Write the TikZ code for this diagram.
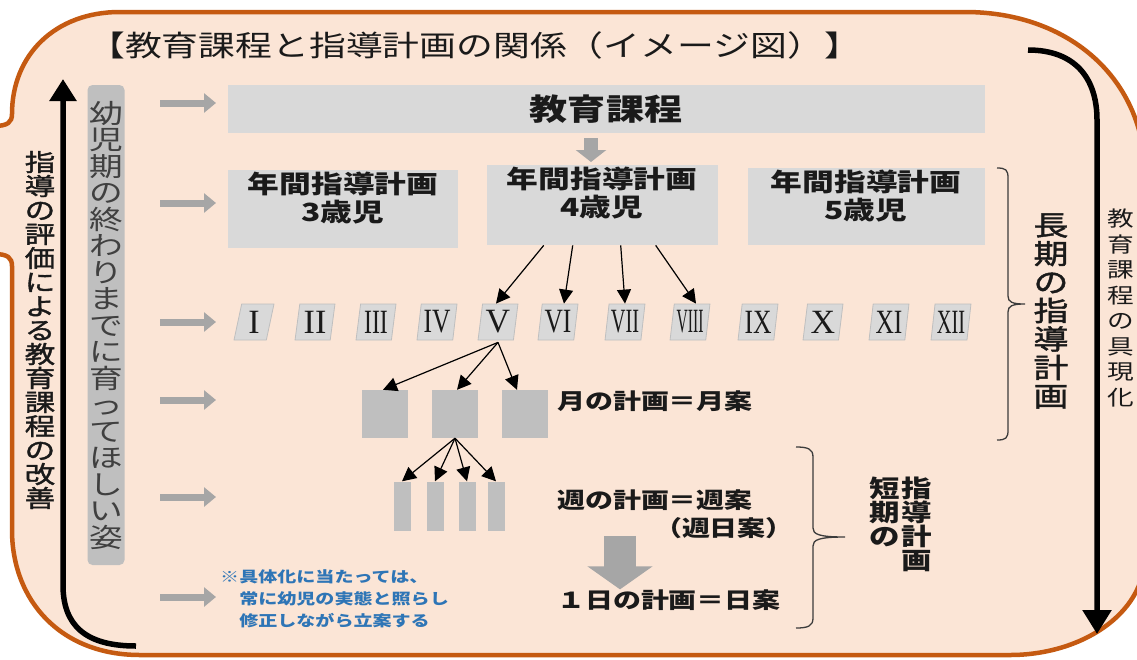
\documentclass[tikz,border=0pt]{standalone}
\usepackage{graphicx}
\usepackage{fontspec}
\setmainfont{Noto Sans CJK JP}[FakeStretch=1.27]
\newfontfamily\jp{Noto Sans CJK JP}[FakeStretch=1.27]
\newfontfamily\jpm{Noto Sans CJK JP}[FakeStretch=1.27,FakeBold=1.6]
\newfontfamily\rmn{Liberation Serif}
\usetikzlibrary{arrows.meta,shapes.geometric}
\definecolor{peach}{HTML}{FBE5D6}
\definecolor{orng}{HTML}{C55A11}
\definecolor{lgray}{HTML}{D9D9D9}
\definecolor{mgray}{HTML}{BFBFBF}
\definecolor{agray}{HTML}{A6A6A6}
\definecolor{blu}{HTML}{2E75B6}
\definecolor{txt}{HTML}{1A1A1A}
\newcommand\fsz[1]{\fontsize{#1}{#1}\selectfont}
\newcommand\rn[2]{\scalebox{#1}[1]{#2}}
\begin{document}
\begin{tikzpicture}[x=1pt,y=-1pt,
  graybox/.style={fill=lgray, draw=none, inner sep=0pt},
  mbox/.style={fill=mgray, draw=none, inner sep=0pt},
  label/.style={inner sep=0pt, text=txt, font=\jp\bfseries\fsz{22}},
  vtext/.style={inner sep=0pt, align=center, text=txt},
  smallarrow/.style={draw=agray, line width=7pt, -{Triangle[length=12pt,width=19pt]}},
  thinarrow/.style={draw=black, line width=1.2pt, -{Triangle[length=14pt,width=14pt]}},
  blockarrow/.style={draw=agray, -{Triangle[length=12pt,width=30pt]}},
  brace/.style={draw=txt!85, line width=1.3pt},
  bigarrow/.style={draw=black, line width=5.5pt},
  roman/.style={trapezium, trapezium left angle=81, trapezium right angle=99,
    trapezium stretches=true, minimum width=40pt, minimum height=36pt,
    fill=lgray, draw=mgray, line width=0.8pt, inner sep=0pt,
    text=txt, font=\rmn\fsz{34}}]
\useasboundingbox (0,0) rectangle (1137,659);
\fill[white] (0,0) rectangle (1137,659);
% outer frame
\filldraw[fill=peach, draw=orng, line width=4.5pt]
  (120,12) -- (965,12) .. controls (1070,12) and (1145,80) .. (1145,175)
  -- (1145,555) .. controls (1145,615) and (1080,655) .. (1010,655)
  -- (140,655) .. controls (60,655) and (12,600) .. (12,530)
  -- (12,266) .. controls (12,258) and (8,254) .. (-6,254)
  -- (-6,126) .. controls (8,126) and (12,122) .. (12,114)
  .. controls (12,55) and (55,12) .. (120,12) -- cycle;
% title
\node[anchor=west, inner sep=0pt, text=txt, font=\jp\fsz{29}] (title) at (88,45)
  {【教育課程と指導計画の関係（イメージ図）】};
% left big arrow
\coordinate (lb) at (136,646);
\coordinate (lt) at (63,79);
\draw[bigarrow, -{Triangle[length=22pt,width=26pt]}] (lb) .. controls (85,646) and (63,625) .. (63,585) -- (lt);
\node[vtext, font=\jpm\fsz{24}] (eval) at (40,330)
  {指\\導\\の\\評\\価\\に\\よ\\る\\教\\育\\課\\程\\の\\改\\善};
% right big arrow
\coordinate (rt) at (1028,50);
\coordinate (rb) at (1097,634);
\draw[bigarrow, -{Triangle[length=24pt,width=28pt]}] (rt) .. controls (1075,50) and (1097,78) .. (1097,120) -- (rb);
\node[vtext, font=\jp\fontsize{21}{25.5}\selectfont] (gugen) at (1121,308)
  {教\\育\\課\\程\\の\\具\\現\\化};
% gray vertical box
\node[fill=mgray, rounded corners=5pt, minimum width=37pt, minimum height=480pt, inner sep=0pt] (sugata) at (106,325) {};
\node[vtext, text=black!75, font=\jp\fsz{26.5}] (sugatat) at (sugata.center)
  {幼\\児\\期\\の\\終\\わ\\り\\ま\\で\\に\\育\\っ\\て\\ほ\\し\\い\\姿};
% small gray arrows
\foreach \yy/\nm in {103/a1,203/a2,322/a3,400/a4,497/a5,597/a6}{
  \coordinate (\nm s) at (160,\yy);
  \coordinate (\nm e) at (216,\yy);
  \draw[smallarrow] (\nm s) -- (\nm e);
}
% curriculum
\node[graybox, minimum width=757pt, minimum height=48pt, anchor=north west] (curr) at (228,85) {};
\node[label, font=\jp\bfseries\fsz{30}] (currt) at (606,109) {教育課程};
% year plans
\node[graybox, minimum width=230pt, minimum height=78pt, anchor=north west] (y3) at (228,170) {};
\node[graybox, minimum width=231pt, minimum height=80pt, anchor=north west] (y4) at (487,165) {};
\node[graybox, minimum width=237pt, minimum height=77pt, anchor=north west] (y5) at (748,168) {};
\node[vtext, font=\jp\bfseries\fontsize{25}{28}\selectfont, anchor=north] (y3t) at (343,172) {年間指導計画\\3歳児};
\node[vtext, font=\jp\bfseries\fontsize{25}{28}\selectfont, anchor=north] (y4t) at (602,167) {年間指導計画\\4歳児};
\node[vtext, font=\jp\bfseries\fontsize{25}{28}\selectfont, anchor=north] (y5t) at (866,170) {年間指導計画\\5歳児};
\coordinate (dax) at (591,0);
\draw[blockarrow, line width=14pt, shorten <=5pt, shorten >=3pt] (curr.south -| dax) -- (y4.north -| dax);
% months (roman)
\node[roman] (r1) at (254,322) {I};
\node[roman] (r2) at (315,322) {II};
\node[roman] (r3) at (376,322) {\rn{0.7}{III}};
\node[roman] (r4) at (437,322) {\rn{0.75}{IV}};
\node[roman] (r5) at (498,322) {V};
\node[roman] (r6) at (558,322) {\rn{0.75}{VI}};
\node[roman] (r7) at (625,322) {\rn{0.6}{VII}};
\node[roman] (r8) at (690,322) {\rn{0.46}{VIII}};
\node[roman] (r9) at (758,322) {\rn{0.75}{IX}};
\node[roman] (r10) at (823,322) {X};
\node[roman] (r11) at (889,322) {\rn{0.75}{XI}};
\node[roman] (r12) at (951,322) {\rn{0.6}{XII}};
\draw[thinarrow] ([xshift=-59pt]y4.south) -- ([xshift=-2pt]r5.north);
\draw[thinarrow] ([xshift=-30pt]y4.south) -- ([xshift=6pt]r6.north);
\draw[thinarrow] ([xshift=18pt]y4.south) -- (r7.north);
\draw[thinarrow] ([xshift=53pt]y4.south) -- ([xshift=6pt]r8.north);
% monthly plans
\node[mbox, minimum width=46pt, minimum height=48pt] (m1) at (385,414) {};
\node[mbox, minimum width=46pt, minimum height=48pt] (m2) at (455,414) {};
\node[mbox, minimum width=46pt, minimum height=48pt] (m3) at (525,414) {};
\draw[thinarrow] ([yshift=-2pt]r5.south) -- ([xshift=-2pt]m1.north);
\draw[thinarrow] ([yshift=-2pt]r5.south) -- ([xshift=2pt]m2.north);
\draw[thinarrow] ([yshift=-2pt]r5.south) -- ([xshift=-8pt]m3.north);
\node[label, anchor=west] (mt) at (557,401) {月の計画＝月案};
% weekly plans
\node[mbox, minimum width=17pt, minimum height=49pt] (w1) at (402,506) {};
\node[mbox, minimum width=17pt, minimum height=49pt] (w2) at (435,506) {};
\node[mbox, minimum width=17pt, minimum height=49pt] (w3) at (467,506) {};
\node[mbox, minimum width=17pt, minimum height=49pt] (w4) at (496,506) {};
\draw[thinarrow] (m2.south) -- (w1.north);
\draw[thinarrow] (m2.south) -- (w2.north);
\draw[thinarrow] (m2.south) -- (w3.north);
\draw[thinarrow] (m2.south) -- (w4.north);
\node[label, anchor=west] (wt) at (557,500) {週の計画＝週案};
\node[label, anchor=east] (wt2) at (794,528) {（週日案）};
% daily plan
\node[label, anchor=west] (dt) at (557,600) {１日の計画＝日案};
\draw[blockarrow, line width=32pt, -{Triangle[length=23pt,width=64pt]}] (wt2.south -| 620,0) ++(0,-3) -- (dt.north -| 620,0);
% note
\node[inner sep=0pt, align=left, anchor=north west, text=blu, font=\jp\bfseries\fontsize{15}{22}\selectfont] (note) at (220,569)
  {※具体化に当たっては、\\\phantom{※}常に幼児の実態と照らし\\\phantom{※}修正しながら立案する};
% long-term brace
\draw[brace] (997,168) .. controls (1006,168) and (1008,170) .. (1008,178) -- (1008,296)
  .. controls (1008,302) and (1012,304) .. (1025,304)
  .. controls (1012,304) and (1008,306) .. (1008,312) -- (1008,430)
  .. controls (1008,438) and (1006,440) .. (997,440);
\node[vtext, font=\jpm\fontsize{27.5}{28.5}\selectfont] (long) at (1051,311) {長\\期\\の\\指\\導\\計\\画};
% short-term brace
\draw[brace] (796,447) .. controls (808,447) and (813,449) .. (813,457) -- (813,528)
  .. controls (813,534) and (818,537) .. (845,537)
  .. controls (818,537) and (813,540) .. (813,546) -- (813,618)
  .. controls (813,626) and (808,628) .. (796,628);
\node[vtext, font=\jp\bfseries\fsz{24}, anchor=north] (short1) at (885,477) {短\\期\\の};
\node[vtext, font=\jp\bfseries\fsz{24}, anchor=north] (short2) at (917,477) {指\\導\\計\\画};
\end{tikzpicture}
\end{document}
